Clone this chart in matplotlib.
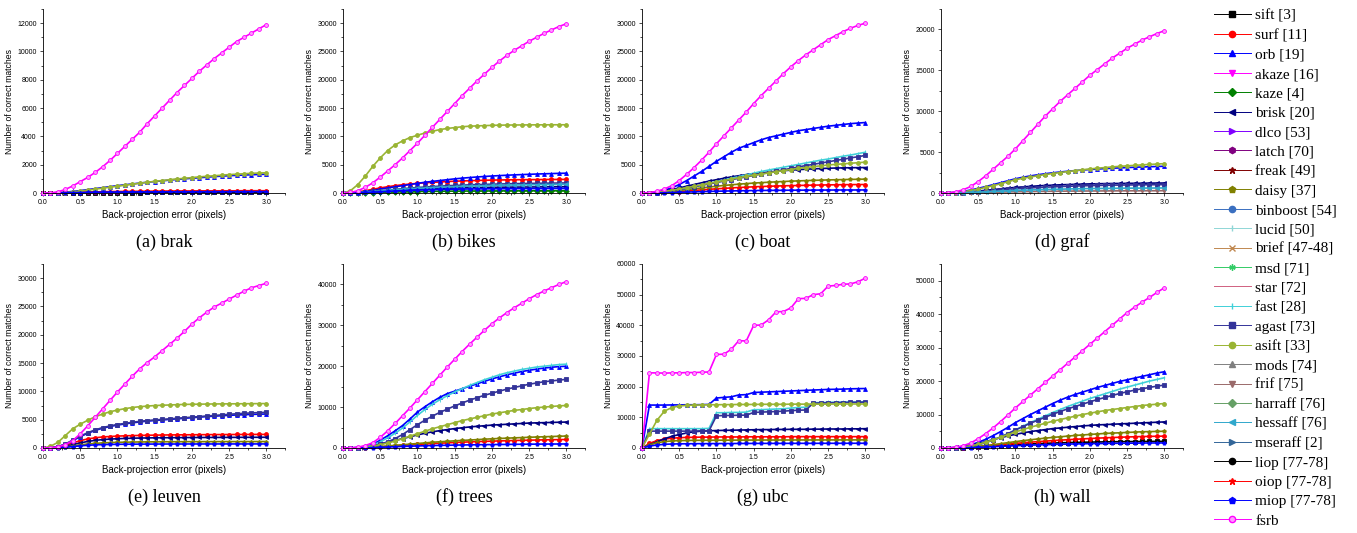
import numpy as np
import matplotlib
matplotlib.use("Agg")
import matplotlib.pyplot as plt
from matplotlib.lines import Line2D
from matplotlib.ticker import MultipleLocator

# back-projection error thresholds (pixels)
x = np.linspace(0, 3, 31)

# name, colour, marker  (legend order)
names = ["sift", "surf", "orb", "akaze", "kaze", "brisk", "dlco", "latch", "freak", "daisy",
         "binboost", "lucid", "brief", "msd", "star", "fast", "agast", "asift", "mods", "frif",
         "harraff", "hessaff", "mseraff", "liop", "oiop", "miop", "fsrb"]
labels = ["sift [3]", "surf [11]", "orb [19]", "akaze [16]", "kaze [4]", "brisk [20]", "dlco [53]",
          "latch [70]", "freak [49]", "daisy [37]", "binboost [54]", "lucid [50]", "brief [47-48]",
          "msd [71]", "star [72]", "fast [28]", "agast [73]", "asift [33]", "mods [74]", "frif [75]",
          "harraff [76]", "hessaff [76]", "mseraff [2]", "liop [77-78]", "oiop [77-78]",
          "miop [77-78]", "fsrb"]
colors = ["#000000", "#ff0000", "#0000ff", "#ff00ff", "#008000", "#000080", "#8000ff", "#800080",
          "#800000", "#808000", "#3a6fc0", "#8fd6d6", "#c08850", "#33cc66", "#d06080", "#40d0d8",
          "#333399", "#99b433", "#808080", "#9a6a6a", "#66a066", "#30a8cc", "#336699", "#000000",
          "#ff0000", "#0000ff", "#ff00ff"]
markers = ["s", "o", "^", "v", "D", "<", ">", "h", "*", "p", "o", "|", "x", (6, 2, 0), "",
           "|", "s", "o", "^", "v", "D", "<", ">", "o", "*", "p", "o"]

# ---- (a) brak
brak = {
    "sift": [0, 1, 4, 8, 12, 16, 20, 23, 26, 28, 30, 32, 34, 35, 36, 37, 38, 39, 40, 40, 41, 41, 42, 42, 43, 43, 43, 44, 44, 44, 45],
    "surf": [0, 5, 15, 30, 45, 60, 70, 80, 90, 100, 105, 110, 115, 120, 125, 130, 135, 140, 140, 145, 145, 150, 150, 150, 155, 155, 155, 160, 160, 160, 160],
    "orb": [0, 5, 20, 60, 110, 170, 240, 310, 380, 450, 520, 580, 640, 700, 760, 810, 860, 910, 960, 1000, 1040, 1080, 1120, 1160, 1190, 1220, 1250, 1270, 1290, 1310, 1330],
    "asift": [0, 0, 10, 30, 70, 140, 200, 270, 340, 410, 480, 550, 620, 690, 760, 820, 880, 940, 990, 1040, 1090, 1140, 1180, 1220, 1260, 1300, 1330, 1360, 1390, 1410, 1430],
    "miop": [0, 2, 8, 15, 25, 35, 45, 55, 60, 65, 70, 72, 75, 78, 80, 82, 84, 86, 88, 90, 90, 92, 92, 94, 95, 95, 96, 97, 98, 98, 100],
    "fsrb": [0, 10, 80, 250, 500, 800, 1100, 1450, 1850, 2300, 2800, 3300, 3800, 4300, 4900, 5450, 6000, 6550, 7100, 7600, 8100, 8600, 9050, 9500, 9900, 10300, 10700, 11000, 11300, 11600, 11900],
}

# ---- (b) bikes
bikes = {
    "surf": [0, 60, 200, 400, 650, 900, 1100, 1300, 1450, 1580, 1700, 1800, 1880, 1950, 2020, 2080, 2130, 2170, 2210, 2250, 2280, 2300, 2320, 2340, 2350, 2360, 2370, 2380, 2390, 2395, 2400],
    "orb": [0, 30, 120, 250, 450, 700, 900, 1100, 1300, 1500, 1700, 1900, 2050, 2200, 2350, 2500, 2620, 2730, 2830, 2920, 3000, 3070, 3140, 3200, 3250, 3300, 3350, 3390, 3430, 3470, 3500],
    "kaze": [0, 5, 20, 45, 75, 110, 150, 180, 210, 240, 260, 280, 300, 310, 320, 330, 340, 350, 355, 360, 365, 370, 375, 380, 380, 385, 385, 390, 390, 390, 395],
    "brisk": [0, 15, 60, 130, 210, 300, 390, 470, 540, 610, 670, 720, 770, 810, 850, 880, 910, 940, 960, 980, 1000, 1020, 1030, 1040, 1050, 1060, 1070, 1080, 1090, 1095, 1100],
    "agast": [0, 20, 80, 170, 280, 400, 520, 640, 760, 870, 970, 1060, 1140, 1210, 1280, 1340, 1390, 1440, 1480, 1520, 1560, 1590, 1620, 1650, 1670, 1690, 1710, 1730, 1750, 1760, 1780],
    "asift": [0, 400, 1500, 3000, 4700, 6200, 7500, 8500, 9200, 9800, 10200, 10600, 10900, 11200, 11400, 11550, 11700, 11800, 11850, 11900, 11950, 11980, 12000, 12010, 12020, 12030, 12040, 12040, 12050, 12050, 12050],
    "hessaff": [0, 20, 70, 150, 250, 350, 450, 550, 650, 740, 820, 890, 960, 1020, 1080, 1130, 1180, 1220, 1260, 1300, 1330, 1360, 1390, 1410, 1430, 1450, 1470, 1490, 1500, 1510, 1520],
    "miop": [0, 10, 40, 90, 150, 220, 290, 350, 410, 460, 510, 550, 590, 620, 650, 670, 690, 710, 720, 730, 740, 750, 760, 770, 775, 780, 785, 790, 795, 800, 800],
    "fsrb": [0, 100, 400, 1000, 1800, 2800, 3900, 5000, 6200, 7500, 8800, 10200, 11600, 13000, 14400, 15800, 17200, 18500, 19800, 21000, 22200, 23300, 24300, 25200, 26000, 26800, 27500, 28200, 28800, 29400, 29900],
}

# ---- (c) boat
boat = {
    "surf": [0, 10, 40, 90, 160, 250, 350, 450, 550, 650, 740, 820, 900, 970, 1030, 1090, 1140, 1190, 1230, 1270, 1300, 1330, 1360, 1390, 1410, 1430, 1450, 1470, 1480, 1490, 1500],
    "orb": [0, 50, 200, 500, 900, 1500, 2200, 3000, 3800, 4700, 5600, 6400, 7200, 7900, 8400, 8900, 9400, 9800, 10100, 10400, 10700, 11000, 11200, 11400, 11600, 11800, 11950, 12100, 12250, 12350, 12450],
    "brisk": [0, 40, 150, 350, 600, 900, 1200, 1500, 1800, 2100, 2350, 2600, 2850, 3050, 3250, 3400, 3550, 3700, 3820, 3940, 4040, 4120, 4200, 4260, 4320, 4370, 4410, 4440, 4460, 4480, 4500],
    "daisy": [0, 20, 80, 180, 300, 450, 600, 750, 900, 1050, 1200, 1330, 1450, 1560, 1660, 1750, 1830, 1900, 1970, 2030, 2090, 2140, 2190, 2230, 2270, 2310, 2340, 2370, 2400, 2420, 2450],
    "fast": [0, 20, 80, 200, 380, 600, 850, 1100, 1400, 1700, 2000, 2300, 2600, 2900, 3200, 3500, 3800, 4050, 4300, 4550, 4800, 5050, 5300, 5550, 5800, 6000, 6250, 6500, 6700, 6950, 7200],
    "agast": [0, 20, 80, 200, 380, 600, 850, 1100, 1350, 1600, 1850, 2100, 2350, 2600, 2850, 3100, 3350, 3600, 3850, 4100, 4350, 4600, 4850, 5050, 5300, 5500, 5750, 5950, 6200, 6400, 6650],
    "asift": [0, 30, 120, 280, 480, 700, 950, 1200, 1450, 1700, 1950, 2200, 2450, 2700, 2950, 3150, 3350, 3550, 3750, 3950, 4150, 4350, 4500, 4650, 4800, 4950, 5050, 5150, 5250, 5350, 5450],
    "miop": [0, 5, 20, 50, 80, 120, 160, 200, 240, 280, 310, 340, 370, 390, 410, 430, 450, 460, 470, 480, 490, 500, 505, 510, 515, 520, 525, 530, 530, 535, 540],
    "fsrb": [0, 80, 300, 700, 1300, 2200, 3300, 4500, 5800, 7200, 8700, 10100, 11500, 12900, 14300, 15800, 17200, 18500, 19800, 21100, 22300, 23400, 24400, 25300, 26200, 27100, 27800, 28500, 29100, 29600, 30000],
}

# ---- (d) graf
graf = {
    "orb": [0, 20, 80, 200, 370, 570, 790, 1020, 1260, 1500, 1740, 1930, 2090, 2230, 2360, 2470, 2570, 2660, 2740, 2810, 2870, 2930, 2980, 3030, 3070, 3110, 3150, 3180, 3210, 3240, 3270],
    "brisk": [0, 10, 40, 90, 160, 240, 330, 420, 510, 600, 680, 750, 810, 870, 920, 960, 1000, 1030, 1060, 1090, 1110, 1130, 1150, 1160, 1170, 1180, 1190, 1200, 1210, 1215, 1220],
    "agast": [0, 5, 25, 60, 110, 170, 240, 310, 380, 450, 510, 570, 620, 670, 710, 750, 790, 820, 850, 880, 900, 920, 940, 960, 970, 980, 990, 1000, 1010, 1015, 1020],
    "asift": [0, 10, 50, 150, 300, 480, 680, 900, 1130, 1380, 1620, 1800, 1960, 2110, 2250, 2380, 2500, 2620, 2730, 2840, 2940, 3030, 3110, 3190, 3260, 3320, 3380, 3440, 3490, 3540, 3590],
    "frif": [0, 2, 8, 20, 35, 55, 75, 95, 115, 135, 150, 165, 180, 190, 200, 210, 220, 230, 235, 240, 245, 250, 255, 260, 262, 265, 268, 270, 272, 275, 278],
    "hessaff": [0, 5, 15, 40, 70, 110, 150, 190, 230, 270, 310, 340, 370, 400, 430, 450, 470, 490, 510, 530, 540, 550, 560, 570, 580, 590, 595, 600, 605, 610, 615],
    "fsrb": [0, 30, 150, 400, 800, 1400, 2100, 2900, 3700, 4500, 5400, 6400, 7400, 8400, 9400, 10300, 11200, 12000, 12800, 13600, 14400, 15100, 15800, 16500, 17100, 17700, 18200, 18700, 19100, 19500, 19850],
}

# ---- (e) leuven
leuven = {
    "surf": [0, 30, 150, 450, 900, 1300, 1600, 1800, 1950, 2030, 2100, 2150, 2190, 2220, 2250, 2270, 2290, 2310, 2320, 2330, 2340, 2350, 2360, 2370, 2375, 2380, 2385, 2390, 2395, 2400, 2400],
    "orb": [0, 40, 220, 650, 1300, 2000, 2600, 3100, 3500, 3800, 4050, 4250, 4450, 4600, 4750, 4850, 4950, 5050, 5150, 5250, 5350, 5450, 5550, 5620, 5700, 5770, 5830, 5880, 5930, 5970, 6000],
    "brisk": [0, 20, 100, 300, 600, 900, 1150, 1350, 1480, 1570, 1640, 1690, 1730, 1760, 1780, 1800, 1810, 1820, 1830, 1840, 1850, 1855, 1860, 1865, 1870, 1875, 1880, 1885, 1890, 1895, 1900],
    "daisy": [0, 10, 60, 180, 350, 550, 700, 820, 900, 960, 1000, 1030, 1050, 1070, 1080, 1090, 1100, 1105, 1110, 1115, 1120, 1120, 1125, 1125, 1130, 1130, 1130, 1135, 1135, 1135, 1140],
    "agast": [0, 50, 250, 700, 1400, 2100, 2700, 3200, 3600, 3900, 4150, 4350, 4550, 4700, 4850, 4950, 5050, 5150, 5250, 5350, 5450, 5550, 5650, 5750, 5850, 5950, 6050, 6130, 6200, 6250, 6300],
    "asift": [0, 300, 1000, 2200, 3400, 4200, 4900, 5500, 6000, 6400, 6700, 6950, 7150, 7300, 7400, 7500, 7550, 7600, 7650, 7700, 7720, 7740, 7760, 7780, 7790, 7800, 7810, 7820, 7830, 7840, 7850],
    "miop": [0, 5, 40, 120, 250, 380, 480, 550, 600, 630, 650, 665, 675, 685, 690, 695, 700, 702, 705, 707, 710, 710, 712, 712, 714, 715, 715, 716, 717, 718, 720],
    "fsrb": [0, 30, 200, 600, 1300, 2500, 3900, 5400, 6900, 8400, 9900, 11300, 12700, 14000, 15100, 16100, 17200, 18300, 19400, 20600, 21900, 23000, 24000, 24900, 25600, 26300, 27000, 27700, 28300, 28700, 29100],
}

# ---- (f) trees
trees = {
    "surf": [0, 5, 25, 80, 160, 270, 400, 520, 640, 760, 870, 980, 1080, 1170, 1260, 1340, 1420, 1490, 1560, 1620, 1680, 1730, 1780, 1830, 1870, 1910, 1950, 1990, 2020, 2050, 2080],
    "orb": [0, 20, 120, 400, 900, 1900, 3000, 4200, 5500, 7100, 8800, 10100, 11300, 12400, 13300, 13900, 14500, 15100, 15700, 16300, 16900, 17400, 17900, 18300, 18700, 19000, 19300, 19550, 19750, 19900, 20000],
    "brisk": [0, 20, 100, 300, 600, 1000, 1400, 1850, 2300, 2750, 3200, 3600, 3950, 4250, 4500, 4750, 4950, 5150, 5300, 5450, 5600, 5700, 5800, 5900, 6000, 6100, 6150, 6200, 6250, 6300, 6350],
    "daisy": [0, 5, 30, 100, 200, 350, 500, 650, 800, 950, 1100, 1250, 1400, 1520, 1640, 1750, 1850, 1950, 2050, 2150, 2250, 2330, 2410, 2480, 2550, 2620, 2690, 2750, 2810, 2870, 2930],
    "fast": [0, 15, 90, 300, 700, 1500, 2500, 3600, 4900, 6400, 8000, 9400, 10700, 11800, 12800, 13700, 14500, 15300, 16000, 16700, 17300, 17900, 18400, 18800, 19200, 19500, 19800, 20000, 20200, 20400, 20500],
    "agast": [0, 10, 60, 200, 450, 900, 1500, 2300, 3300, 4500, 5700, 6800, 7800, 8700, 9500, 10300, 11000, 11700, 12300, 12900, 13400, 13900, 14400, 14800, 15200, 15600, 15900, 16200, 16400, 16600, 16800],
    "asift": [0, 10, 60, 200, 450, 800, 1200, 1700, 2300, 2900, 3500, 4100, 4700, 5200, 5700, 6200, 6700, 7100, 7500, 7900, 8300, 8600, 8900, 9200, 9400, 9650, 9850, 10000, 10150, 10300, 10400],
    "miop": [0, 2, 15, 50, 100, 170, 240, 310, 380, 440, 500, 550, 600, 640, 680, 710, 740, 770, 800, 820, 840, 860, 880, 900, 915, 930, 945, 960, 970, 980, 990],
    "fsrb": [0, 30, 200, 600, 1300, 2600, 4200, 6000, 7900, 9800, 11800, 13800, 15800, 17800, 19800, 21700, 23600, 25400, 27100, 28800, 30400, 31800, 33100, 34300, 35400, 36500, 37500, 38400, 39200, 40000, 40700],
}

# ---- (g) ubc
ubc = {
    "surf": [0, 1500, 2400, 2900, 3200, 3350, 3450, 3500, 3550, 3550, 3600, 3600, 3600, 3600, 3650, 3650, 3650, 3650, 3650, 3650, 3700, 3700, 3700, 3700, 3700, 3700, 3700, 3700, 3700, 3700, 3700],
    "orb": [0, 14000, 14000, 14000, 14050, 14050, 14100, 14100, 14150, 14200, 16300, 16500, 16700, 17300, 17400, 18100, 18200, 18300, 18400, 18500, 18600, 18700, 18800, 18900, 19000, 19100, 19150, 19200, 19300, 19350, 19400],
    "brisk": [0, 1000, 2000, 3000, 3800, 4400, 4900, 5300, 5500, 5600, 5700, 5750, 5800, 5850, 5900, 5950, 6000, 6000, 6050, 6050, 6100, 6100, 6100, 6150, 6150, 6200, 6200, 6200, 6250, 6250, 6300],
    "daisy": [0, 1000, 1700, 2100, 2300, 2400, 2450, 2500, 2500, 2520, 2540, 2550, 2560, 2570, 2580, 2590, 2600, 2600, 2600, 2610, 2610, 2620, 2620, 2620, 2630, 2630, 2630, 2640, 2640, 2640, 2650],
    "fast": [0, 6300, 6300, 6300, 6300, 6300, 6300, 6300, 6300, 6400, 11500, 11500, 11600, 11600, 11700, 12500, 12500, 12600, 12700, 12800, 13000, 13200, 13300, 14800, 14800, 14900, 14900, 15000, 15000, 15000, 15100],
    "agast": [0, 5500, 5500, 5500, 5500, 5500, 5500, 5500, 5600, 5600, 10500, 10600, 10600, 10700, 10700, 11600, 11700, 11800, 11900, 12000, 12200, 12300, 12400, 14600, 14700, 14700, 14800, 14800, 14900, 14900, 15000],
    "asift": [0, 4500, 9000, 12000, 13200, 13700, 13900, 14000, 14050, 14100, 14100, 14150, 14150, 14200, 14200, 14200, 14250, 14250, 14250, 14250, 14300, 14300, 14300, 14300, 14300, 14300, 14350, 14350, 14350, 14350, 14350],
    "miop": [0, 600, 1000, 1200, 1300, 1350, 1380, 1400, 1420, 1430, 1440, 1450, 1460, 1470, 1480, 1490, 1500, 1500, 1500, 1510, 1510, 1520, 1520, 1520, 1530, 1530, 1530, 1540, 1540, 1540, 1550],
    "fsrb": [0, 24500, 24500, 24400, 24500, 24500, 24600, 24600, 24700, 24800, 30500, 30600, 32200, 35000, 34900, 40000, 40100, 41800, 44400, 44500, 45700, 48700, 48800, 50000, 50300, 52800, 53000, 53400, 53500, 54200, 55400],
}

# ---- (h) wall
wall = {
    "sift": [0, 8, 30, 90, 180, 300, 430, 570, 710, 850, 980, 1100, 1210, 1310, 1400, 1480, 1550, 1610, 1670, 1720, 1760, 1800, 1830, 1860, 1890, 1910, 1930, 1950, 1970, 1980, 2000],
    "surf": [0, 10, 40, 120, 240, 400, 580, 780, 980, 1180, 1380, 1560, 1740, 1900, 2050, 2200, 2340, 2470, 2600, 2720, 2830, 2940, 3040, 3130, 3210, 3290, 3360, 3420, 3470, 3510, 3550],
    "orb": [0, 30, 150, 450, 950, 1700, 2600, 3700, 4900, 6200, 7600, 8800, 10000, 11100, 12200, 13300, 14300, 15200, 16000, 16700, 17400, 18100, 18700, 19300, 19900, 20400, 20900, 21400, 21900, 22400, 22800],
    "brisk": [0, 30, 150, 400, 800, 1300, 1900, 2500, 3100, 3600, 4100, 4500, 4900, 5200, 5500, 5800, 6000, 6200, 6400, 6600, 6750, 6900, 7000, 7100, 7200, 7300, 7400, 7500, 7600, 7700, 7800],
    "daisy": [0, 10, 50, 150, 300, 500, 750, 1000, 1300, 1600, 1900, 2200, 2450, 2700, 2950, 3150, 3350, 3550, 3750, 3900, 4050, 4200, 4350, 4450, 4550, 4650, 4750, 4850, 4900, 4950, 5000],
    "fast": [0, 15, 90, 270, 580, 1050, 1650, 2400, 3300, 4300, 5400, 6500, 7600, 8600, 9600, 10600, 11500, 12400, 13200, 14000, 14800, 15500, 16200, 16900, 17600, 18200, 18800, 19400, 20000, 20500, 21000],
    "agast": [0, 15, 80, 250, 550, 1000, 1600, 2400, 3300, 4300, 5400, 6400, 7400, 8300, 9200, 10100, 10900, 11700, 12400, 13100, 13800, 14500, 15100, 15700, 16300, 16800, 17300, 17700, 18100, 18500, 18800],
    "asift": [0, 20, 100, 300, 650, 1100, 1700, 2400, 3200, 4000, 4800, 5500, 6200, 6800, 7400, 8000, 8500, 9000, 9500, 10000, 10400, 10800, 11200, 11500, 11800, 12100, 12400, 12700, 12900, 13100, 13300],
    "miop": [0, 5, 20, 60, 120, 200, 290, 390, 490, 590, 680, 770, 850, 920, 990, 1050, 1110, 1160, 1210, 1250, 1290, 1330, 1360, 1390, 1410, 1430, 1450, 1470, 1490, 1500, 1510],
    "fsrb": [0, 50, 250, 700, 1500, 2800, 4300, 6000, 7900, 9900, 12000, 13900, 15800, 17700, 19600, 21500, 23400, 25300, 27200, 29100, 31000, 32900, 34800, 36700, 38600, 40500, 42100, 43600, 45000, 46500, 47900],
}

panels = [brak, bikes, boat, graf, leuven, trees, ubc, wall]
captions = ["(a) brak", "(b) bikes", "(c) boat", "(d) graf",
            "(e) leuven", "(f) trees", "(g) ubc", "(h) wall"]
ytops = [13000, 32500, 32500, 22500, 32500, 45000, 60000, 55000]
ysteps = [2000, 5000, 5000, 5000, 5000, 10000, 10000, 10000]

fig = plt.figure(figsize=(13.57, 5.33), dpi=100)
W, H = 1357, 533
lefts = [43, 343, 642, 941]
bottoms = [193, 448]

for i, data in enumerate(panels):
    r, c = divmod(i, 4)
    ax = fig.add_axes([lefts[c] / W, 1 - bottoms[r] / H, 242 / W, 184 / H])
    for k, name in enumerate(names):
        if name not in data:
            continue
        face = "#ff99ff" if name == "fsrb" else colors[k]
        ax.plot(x, data[name], color=colors[k], marker=markers[k], ms=2.8, mew=0.6,
                mfc=face, mec=colors[k], lw=1.2, clip_on=False)
    ax.set_xlim(0, 3.25)
    ax.set_ylim(0, ytops[i])
    ax.xaxis.set_minor_locator(MultipleLocator(0.25))
    ax.set_xticks([0, 0.5, 1.0, 1.5, 2.0, 2.5, 3.0])
    ax.set_xticklabels(["0.0", "0.5", "1.0", "1.5", "2.0", "2.5", "3.0"])
    ax.yaxis.set_major_locator(MultipleLocator(ysteps[i]))
    ax.yaxis.set_minor_locator(MultipleLocator(ysteps[i] / 2))
    ax.spines["top"].set_visible(False)
    ax.spines["right"].set_visible(False)
    for s in ("left", "bottom"):
        ax.spines[s].set_linewidth(0.6)
    ax.tick_params(which="both", direction="out", width=0.5, labelsize=5, pad=2,
                   labelfontfamily="Liberation Sans")
    ax.tick_params(which="major", length=2.5)
    ax.tick_params(which="minor", length=1.5)
    ax.set_xlabel("Back-projection error (pixels)", fontsize=7, family="Liberation Sans", labelpad=3)
    ax.set_ylabel("Number of correct matches", fontsize=6.2, family="Liberation Sans", labelpad=2)
    fig.text((lefts[c] + 121) / W, 1 - (bottoms[r] + 49) / H, captions[i],
             ha="center", va="center", fontsize=13, family="Liberation Serif")

handles = []
for k, name in enumerate(names):
    face = "#ff99ff" if name == "fsrb" else colors[k]
    handles.append(Line2D([], [], color=colors[k], lw=0.7, marker=markers[k], ms=4.5,
                          mfc=face, mec=colors[k], mew=1.0))
fig.legend(handles, labels, loc="upper left", bbox_to_anchor=(1208 / W, 1 - 3 / H),
           frameon=False, prop={"family": "Liberation Serif", "size": 11},
           handlelength=2.4, handletextpad=0.3, labelspacing=0.375, borderaxespad=0)

fig.savefig("out.png", dpi=100)
